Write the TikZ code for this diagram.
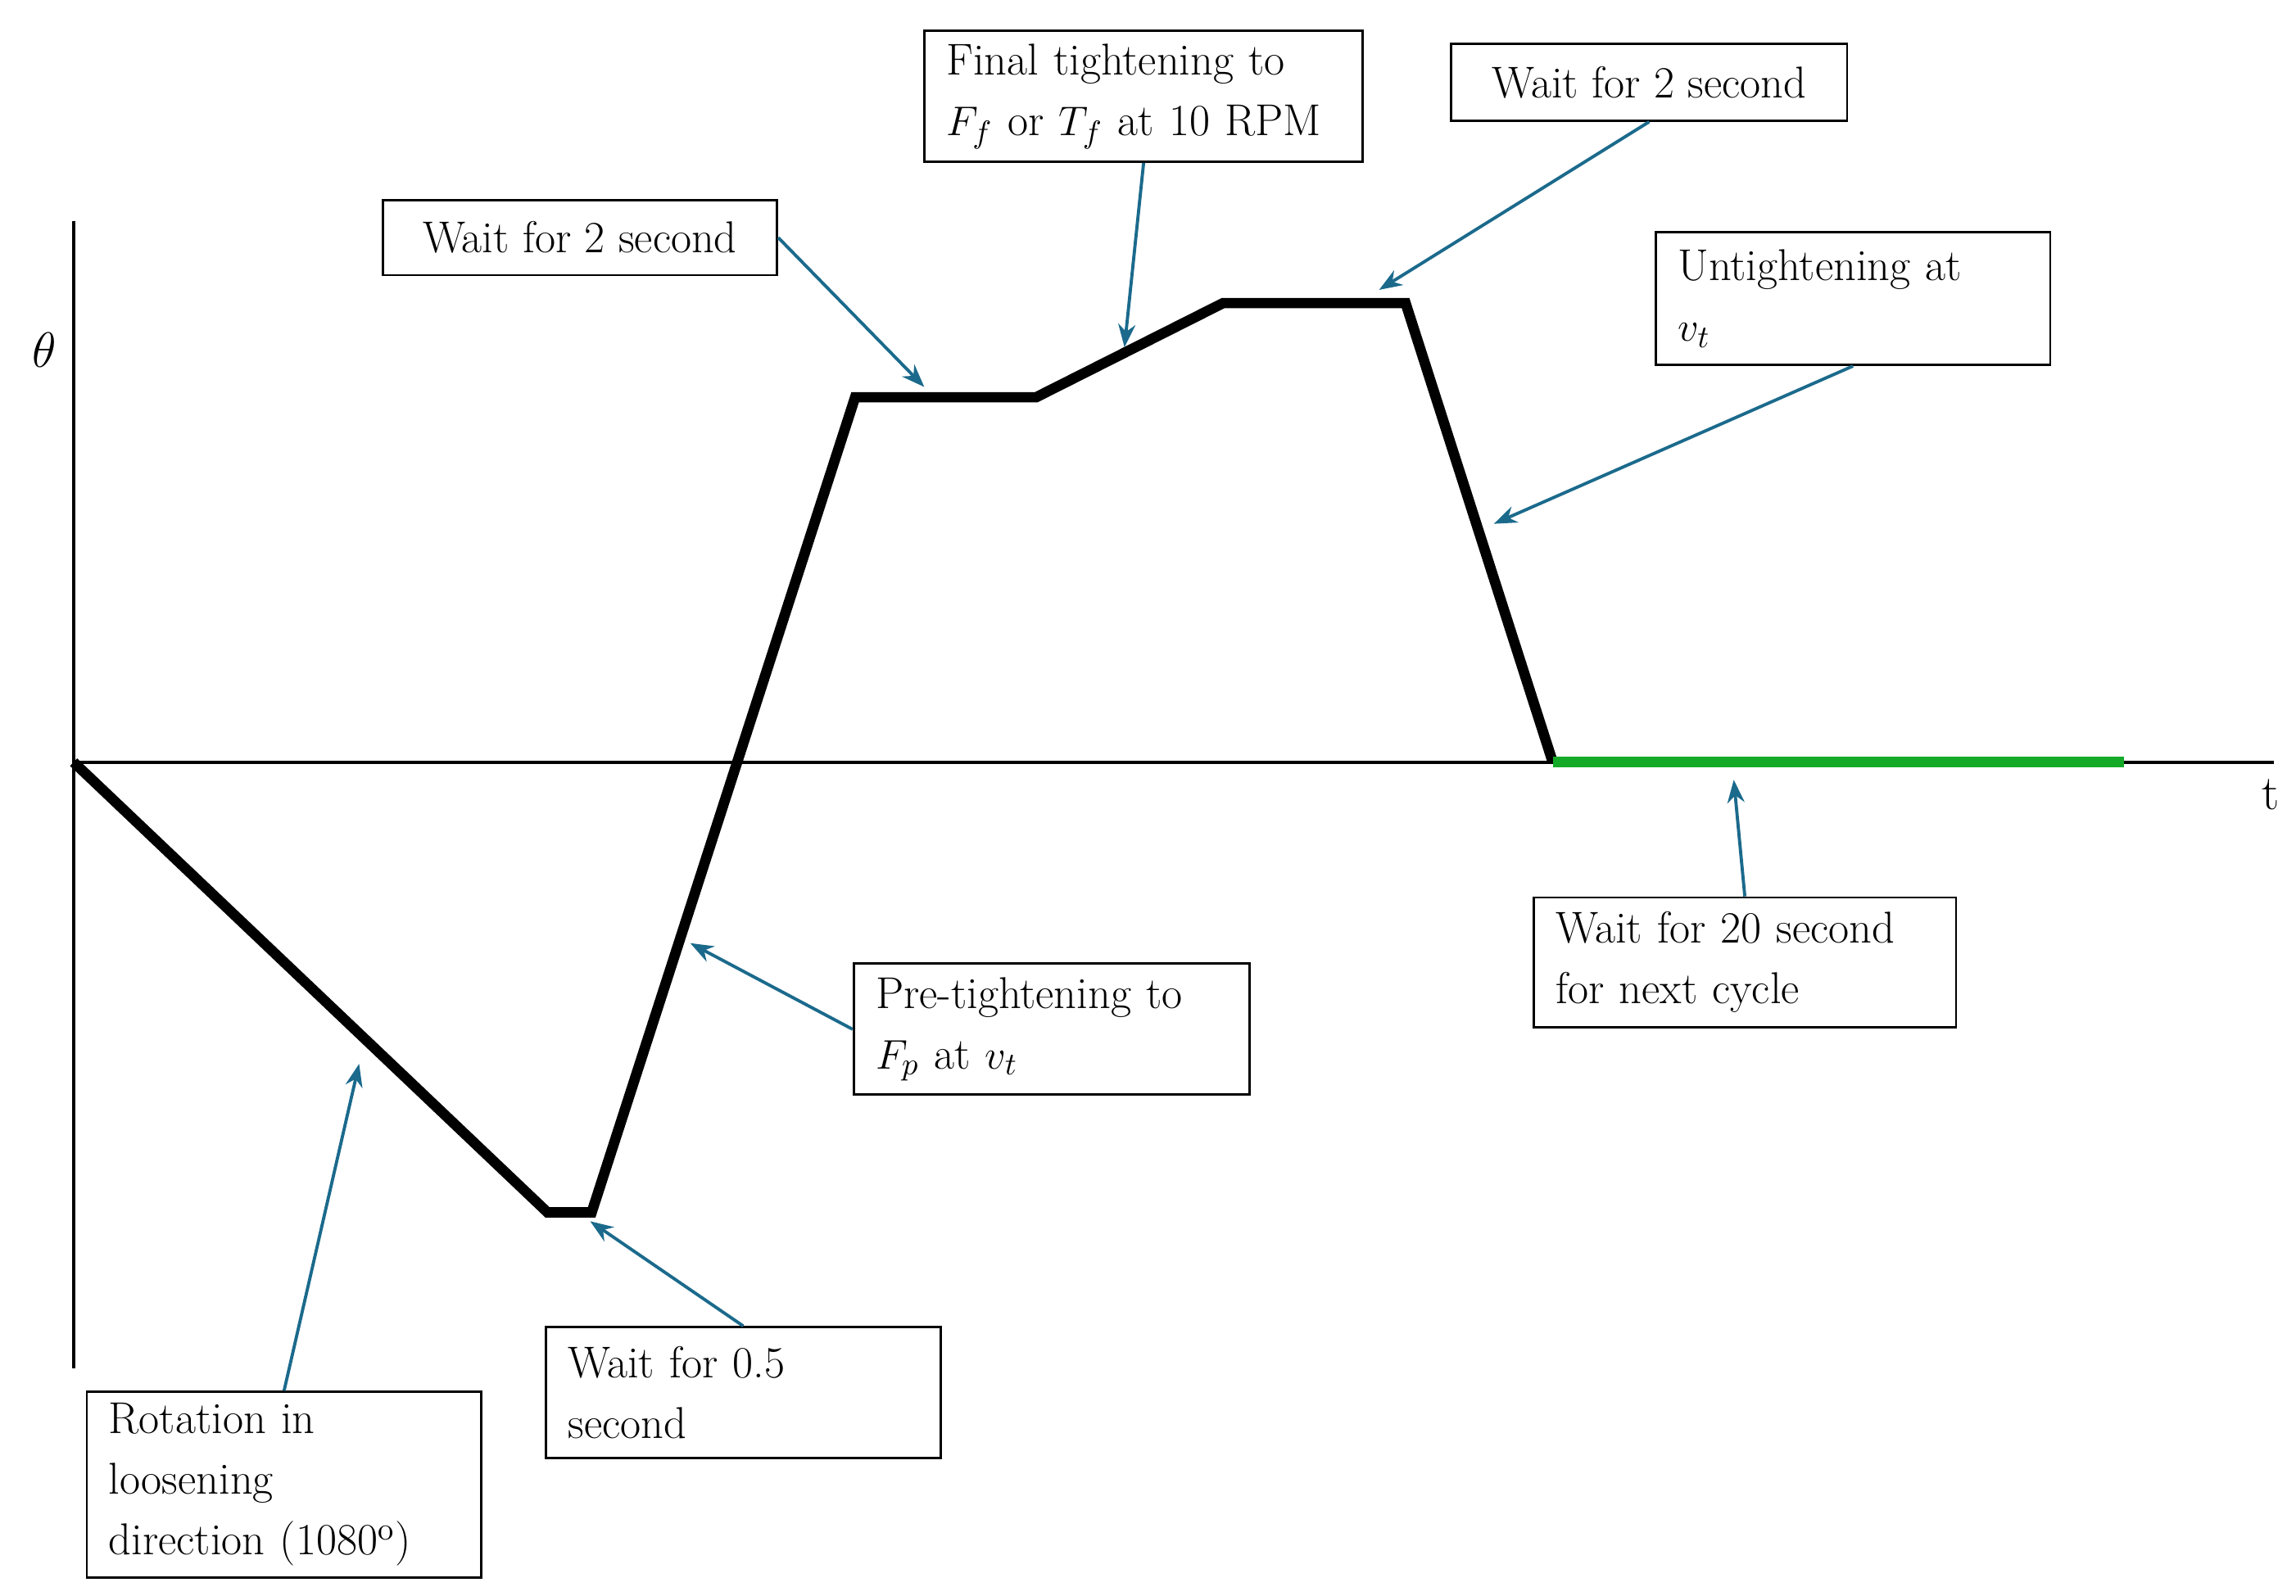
\documentclass[tikz,border=0pt]{standalone}
\usetikzlibrary{arrows.meta}
\tikzset{
  box/.style={draw, line width=0.8pt, align=left, anchor=center, inner sep=0pt,
    font=\fontsize{15.5}{21}\selectfont},
  note/.style={-{Stealth[length=8pt,width=6pt]}, line width=1.1pt, color=noteblue},
  curve/.style={line width=3.6pt, line join=miter},
}
\definecolor{noteblue}{RGB}{27,106,140}
\definecolor{waitgreen}{RGB}{20,170,40}
\begin{document}
\begin{tikzpicture}[x=0.01797cm, y=-0.01797cm]
        \useasboundingbox (0,0) rectangle (1560,1084.6);
        % axes
        \draw[line width=1.1pt] (50,150) -- (50,930);
        \draw[line width=1.1pt] (50,518) -- (1545,518);
        \node (theta) at (30,238) {\fontsize{17}{20}\selectfont $\theta$};
        \node (t) at (1543,540) {\fontsize{17}{20}\selectfont t};

        % rotation profile
        \coordinate (p0) at (50,518);
        \coordinate (p1) at (372,824);
        \coordinate (p2) at (402,824);
        \coordinate (p3) at (581,270);
        \coordinate (p4) at (704,270);
        \coordinate (p5) at (831,206);
        \coordinate (p6) at (955,206);
        \coordinate (p7) at (1055,518);
        \coordinate (p8) at (1443,518);
        \draw[curve] (p0) -- (p1) -- (p2) -- (p3) -- (p4) -- (p5) -- (p6) -- (p7);
        \draw[curve, color=waitgreen] (p7) -- (p8);

        % boxes
        \node[box, minimum width=268*0.01797cm, minimum height=51*0.01797cm] (waitA) at (394,161.5) {Wait for 2 second};
        \node[box, minimum width=298*0.01797cm, minimum height=89*0.01797cm, text width=268*0.01797cm] (final) at (777,65.5) {Final tightening to\\ $F_f$ or $T_f$ at 10 RPM};
        \node[box, minimum width=269*0.01797cm, minimum height=52*0.01797cm] (waitB) at (1120.5,56) {Wait for 2 second};
        \node[box, minimum width=268*0.01797cm, minimum height=90*0.01797cm, text width=238*0.01797cm] (untight) at (1259,203) {Untightening at\\ $v_t$};
        \node[box, minimum width=287*0.01797cm, minimum height=88*0.01797cm, text width=257*0.01797cm] (waitC) at (1185.5,654) {Wait for 20 second\\ for next cycle};
        \node[box, minimum width=269*0.01797cm, minimum height=89*0.01797cm, text width=239*0.01797cm] (pretight) at (714.5,699.5) {Pre-tightening to\\ $F_p$ at $v_t$};
        \node[box, minimum width=268*0.01797cm, minimum height=89*0.01797cm, text width=238*0.01797cm] (waitD) at (505,946.5) {Wait for 0.5\\ second};
        \node[box, minimum width=268*0.01797cm, minimum height=126*0.01797cm, text width=238*0.01797cm] (rotation) at (193,1009) {Rotation in\\ loosening\\ direction (1080$^{\mathrm{o}}$)};

        % arrows
        \coordinate (aA) at (628,263);
        \coordinate (aF) at (764,236);
        \coordinate (aB) at (937,197);
        \coordinate (aU) at (1015,356);
        \coordinate (aC) at (1178,530);
        \coordinate (aP) at (469,641);
        \coordinate (aD) at (401,830);
        \coordinate (aR) at (244,723);
        \draw[note] (waitA.east) -- (aA);
        \draw[note] (final.south) -- (aF);
        \draw[note] (waitB.south) -- (aB);
        \draw[note] (untight.south) -- (aU);
        \draw[note] (waitC.north) -- (aC);
        \draw[note] (pretight.west) -- (aP);
        \draw[note] (waitD.north) -- (aD);
        \draw[note] (rotation.north) -- (aR);
\end{tikzpicture}
\end{document}
